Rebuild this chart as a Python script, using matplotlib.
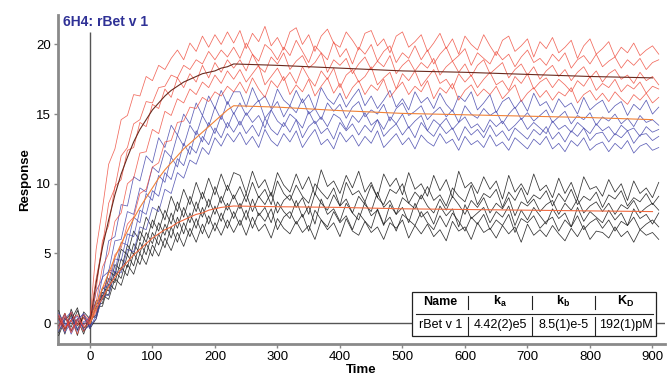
"""Sensorgramm 6H4: rBet v 1 - drei Konzentrationen mit Fit-Kurven"""

import numpy as np
import matplotlib
matplotlib.use("Agg")
import matplotlib.pyplot as plt
from matplotlib.patches import Rectangle

plt.rcParams['font.family'] = ['Liberation Sans', 'DejaVu Sans']
plt.rcParams['mathtext.fontset'] = 'custom'
plt.rcParams['mathtext.rm'] = 'Liberation Sans:bold'
plt.rcParams['mathtext.bf'] = 'Liberation Sans:bold'

# Messkurven, Abtastung alle 10 s ab t = -50 s
t_start = -50
t_step = 10

red_1 = [0.3, -0.6, 0.8, -0.2, 0.6, 0.2,
         5.3, 8.2, 11.4, 12.5, 14.6, 14.9, 16.4, 16.3, 17.7, 17.4, 18.5, 18.2, 19.0, 19.6, 18.9, 20.1, 19.5, 20.6, 19.8, 20.7, 20.0, 20.9, 20.1,
         21.0, 19.7, 20.8, 20.2, 21.3, 19.9, 20.5, 19.6, 20.9, 21.2, 20.0, 20.7, 19.5, 20.6, 21.1, 20.1, 19.8, 20.9, 20.3, 19.6,
         20.8, 21.0, 19.9, 20.4, 19.4, 20.6, 20.9, 19.8, 20.2, 20.7, 19.5, 20.1, 20.8, 19.7, 20.4, 19.3, 20.6, 20.0, 19.6, 20.7,
         19.9, 19.2, 20.3, 20.6, 19.5, 19.9, 20.4, 19.1, 20.2, 19.7, 20.5, 19.4, 19.8, 20.3, 19.0, 19.9, 20.4, 19.3, 19.7, 20.2,
         19.1, 19.8, 19.4, 20.1, 19.2, 19.6, 19.9, 19.3]
red_2 = [-0.4, 0.5, -0.7, 0.3, -0.2, 0.4,
         3.2, 5.5, 8.6, 9.7, 12.0, 12.6, 14.3, 14.6, 15.9, 15.8, 16.9, 17.0, 17.8, 17.6, 18.5, 18.2, 18.9, 18.6, 19.5, 18.9, 19.6, 19.1, 19.8,
         19.0, 20.1, 19.3, 18.8, 20.0, 19.6, 18.9, 19.8, 19.2, 20.3, 19.5, 18.7, 19.9, 19.4, 18.9, 20.2, 19.1, 19.7, 18.6, 19.8,
         19.3, 20.0, 18.8, 19.5, 19.9, 18.7, 19.4, 19.0, 19.9, 18.9, 19.6, 18.6, 19.3, 19.8, 18.8, 19.2, 19.7, 18.5, 19.4, 19.0,
         18.6, 19.5, 18.9, 19.3, 18.4, 19.1, 19.6, 18.7, 19.0, 18.5, 19.3, 18.8, 19.4, 18.3, 18.9, 19.2, 18.6, 19.3, 18.4, 18.8,
         19.1, 18.3, 18.9, 18.5, 19.0, 18.2, 18.7, 18.9]
red_3 = [0.6, -0.3, 0.2, -0.8, 0.4, -0.1,
         2.4, 5.9, 7.0, 9.8, 10.3, 12.4, 12.6, 14.4, 14.1, 15.7, 15.4, 16.8, 16.2, 17.6, 16.9, 17.9, 17.3, 18.5, 17.6, 18.7, 18.0, 18.9, 18.3,
         18.9, 18.1, 19.3, 18.4, 18.0, 19.1, 18.6, 19.4, 18.2, 18.8, 19.2, 18.3, 18.7, 19.4, 18.0, 18.9, 18.5, 19.0, 17.9, 18.6,
         19.1, 18.2, 18.8, 18.4, 19.2, 17.9, 18.5, 18.9, 18.1, 18.7, 18.3, 19.0, 17.8, 18.4, 18.8, 18.0, 18.6, 17.7, 18.5, 18.9,
         17.9, 18.3, 18.7, 17.6, 18.2, 18.6, 17.8, 18.4, 17.5, 18.1, 18.5, 17.7, 18.2, 17.4, 18.0, 18.4, 17.6, 18.1, 17.3, 17.9,
         18.2, 17.5, 17.8, 17.2, 18.0, 17.4, 17.7, 17.1]
red_4 = [-0.2, 0.7, -0.5, 0.1, -0.6, 0.3,
         1.5, 4.0, 5.0, 7.3, 7.9, 10.0, 10.4, 12.2, 12.3, 13.9, 13.6, 15.2, 14.9, 16.1, 15.8, 16.8, 16.4, 17.3, 16.9, 17.8, 17.2, 18.1, 17.5,
         18.2, 17.3, 17.9, 18.5, 17.1, 17.7, 18.3, 17.4, 18.0, 17.2, 18.4, 17.6, 17.0, 18.1, 17.5, 18.3, 16.9, 17.8, 18.2, 17.3,
         17.7, 18.4, 17.1, 17.6, 18.0, 16.8, 17.9, 17.4, 18.1, 17.0, 17.6, 18.2, 17.2, 17.5, 16.8, 17.9, 17.3, 17.8, 16.9, 17.5,
         18.0, 17.1, 17.4, 16.7, 17.7, 17.2, 17.9, 16.8, 17.3, 17.6, 16.9, 17.5, 17.1, 16.6, 17.4, 17.0, 17.7, 16.7, 17.2, 16.9,
         17.5, 16.6, 17.1, 16.8, 17.3, 16.5, 17.0, 16.8]
red_5 = [0.5, -0.4, 0.2, 0.6, -0.3, 0.0,
         0.8, 2.5, 3.0, 4.9, 5.4, 7.1, 7.6, 9.3, 9.6, 11.2, 11.5, 13.0, 13.1, 14.4, 14.5, 15.5, 15.4, 16.2, 15.9, 16.6, 16.3, 17.0, 16.6,
         17.3, 16.5, 17.6, 16.8, 16.2, 17.4, 16.9, 17.7, 16.4, 17.1, 16.6, 17.5, 16.3, 17.0, 17.6, 16.5, 17.2, 16.1, 16.9, 17.4,
         16.4, 17.1, 16.7, 17.5, 16.2, 16.8, 17.3, 16.4, 17.0, 16.6, 17.4, 16.1, 16.9, 16.5, 17.2, 16.0, 16.7, 17.1, 16.3, 16.8,
         16.4, 17.0, 16.1, 16.6, 17.1, 15.9, 16.5, 16.9, 16.2, 16.7, 16.0, 16.6, 16.3, 16.9, 15.8, 16.4, 16.7, 16.0, 16.5, 15.9,
         16.6, 16.1, 15.7, 16.4, 16.0, 16.5, 15.8, 16.2]

blue_1 = [-0.3, 0.6, -0.8, 0.2, 0.7, -0.2,
          2.3, 3.2, 5.9, 6.2, 8.5, 8.4, 10.5, 10.2, 12.0, 11.5, 13.3, 12.6, 14.2, 13.5, 15.0, 14.3, 15.8, 14.9, 16.3, 15.4, 16.7, 15.7, 16.6,
          16.6, 15.5, 16.9, 15.9, 16.3, 15.4, 16.8, 16.0, 15.6, 16.7, 15.8, 16.4, 15.3, 16.9, 16.1, 15.7, 16.5, 15.5, 16.2, 16.8,
          15.6, 16.3, 15.4, 16.0, 16.7, 15.5, 16.1, 15.3, 16.6, 15.8, 16.2, 15.4, 16.5, 15.7, 15.2, 16.3, 15.9, 16.6, 15.3, 15.8,
          16.4, 15.1, 15.9, 16.2, 15.4, 16.0, 15.2, 16.5, 15.6, 15.9, 15.1, 16.1, 15.5, 15.8, 15.0, 16.2, 15.3, 15.7, 16.0, 15.1,
          15.6, 15.9, 14.9, 15.7, 15.3, 16.0, 15.0, 15.5]
blue_2 = [0.5, -0.2, 0.4, -0.6, 0.1, 0.3,
          1.0, 3.3, 3.7, 5.9, 6.0, 8.0, 7.8, 9.7, 9.4, 11.2, 10.8, 12.4, 11.9, 13.5, 12.7, 14.2, 13.5, 14.9, 14.1, 15.5, 14.6, 15.9, 15.0,
          15.8, 14.9, 15.5, 16.0, 14.7, 15.3, 15.9, 14.8, 15.6, 15.1, 16.1, 15.0, 15.4, 14.6, 15.8, 15.2, 15.7, 14.7, 15.5, 15.9,
          14.8, 15.3, 15.0, 15.7, 14.5, 15.4, 15.8, 14.9, 15.2, 15.6, 14.6, 15.1, 15.5, 14.8, 15.3, 14.4, 15.6, 15.0, 14.7, 15.4,
          14.9, 15.2, 14.3, 15.0, 15.5, 14.6, 15.1, 14.5, 14.9, 15.3, 14.4, 14.8, 15.2, 14.3, 14.9, 14.6, 15.1, 14.2, 14.8, 14.5,
          15.0, 14.3, 14.7, 14.1, 14.9, 14.4, 14.6, 14.2]
blue_3 = [-0.6, 0.3, 0.8, -0.4, -0.1, 0.5,
          1.4, 1.7, 3.8, 3.7, 5.8, 5.6, 7.6, 7.2, 9.3, 8.8, 10.6, 10.1, 11.9, 11.2, 12.9, 12.1, 13.8, 13.0, 14.4, 13.6, 14.9, 14.0, 15.1,
          14.2, 15.1, 14.4, 14.9, 14.0, 15.3, 14.5, 14.1, 15.0, 14.6, 14.0, 15.2, 14.3, 14.8, 14.1, 15.0, 14.7, 13.9, 14.9, 14.4,
          15.1, 14.2, 14.6, 13.9, 14.8, 14.3, 15.0, 14.0, 14.5, 14.9, 13.8, 14.6, 14.2, 14.7, 13.9, 14.4, 14.8, 14.0, 14.3, 13.7,
          14.6, 14.1, 14.5, 13.8, 14.2, 14.7, 13.9, 14.4, 14.0, 13.6, 14.5, 13.9, 14.2, 13.7, 14.4, 14.0, 13.6, 14.3, 13.8, 14.1,
          13.5, 14.2, 13.8, 14.0, 13.4, 14.1, 13.7, 13.9]
blue_4 = [0.2, -0.7, 0.1, 0.5, -0.5, -0.2,
          0.3, 1.9, 2.0, 3.7, 3.6, 5.3, 5.1, 6.9, 6.7, 8.3, 8.0, 9.6, 9.3, 10.8, 10.4, 11.7, 11.4, 12.6, 12.1, 13.3, 12.7, 13.6, 13.0,
          13.7, 12.8, 13.4, 12.6, 13.9, 13.1, 12.7, 13.6, 13.0, 13.8, 12.6, 13.3, 13.9, 12.8, 13.2, 12.5, 13.7, 13.0, 13.5, 12.7,
          13.4, 12.9, 13.8, 12.6, 13.1, 13.6, 12.8, 13.3, 12.5, 13.5, 13.0, 12.7, 13.6, 12.9, 13.2, 12.4, 13.4, 12.8, 13.1, 12.6,
          13.5, 12.7, 13.0, 12.4, 13.3, 12.9, 12.5, 13.2, 12.8, 13.4, 12.5, 12.9, 12.3, 13.1, 12.7, 13.3, 12.4, 12.8, 13.0, 12.3,
          12.9, 12.5, 13.1, 12.2, 12.7, 12.9, 12.4, 12.6]
blue_5 = [0.7, 0.0, -0.5, 0.3, 0.6, -0.4,
          0.6, 2.5, 2.7, 4.6, 4.5, 6.4, 6.2, 8.1, 7.8, 9.5, 9.1, 10.8, 10.3, 11.8, 11.3, 12.7, 12.2, 13.4, 12.8, 14.0, 13.3, 14.4, 13.7,
          14.5, 13.6, 14.2, 13.4, 14.7, 13.9, 13.5, 14.4, 13.7, 14.6, 13.3, 14.1, 14.5, 13.6, 14.0, 13.2, 14.4, 13.8, 14.3, 13.5,
          14.2, 13.7, 14.6, 13.4, 13.9, 14.3, 13.5, 14.1, 13.3, 14.4, 13.8, 13.4, 14.2, 13.6, 14.0, 13.1, 14.1, 13.5, 13.9, 13.3,
          14.2, 13.4, 13.8, 13.1, 14.0, 13.6, 13.2, 13.9, 13.5, 14.1, 13.2, 13.7, 13.0, 13.8, 13.4, 14.0, 13.1, 13.6, 13.7, 13.0,
          13.6, 13.3, 13.8, 12.9, 13.5, 13.6, 13.1, 13.4]

black_1 = [0.9, -0.5, 0.6, -0.9, 0.8, 0.3,
           1.6, 1.7, 3.7, 3.4, 5.3, 4.9, 6.6, 5.9, 7.6, 6.8, 8.4, 7.4, 9.1, 8.0, 9.6, 8.5, 10.1, 8.9, 10.4, 9.2, 10.7, 9.5, 10.8,
           10.6, 9.3, 10.9, 9.7, 10.3, 9.1, 10.8, 9.9, 9.4, 10.7, 9.6, 10.5, 9.2, 11.0, 9.8, 10.2, 9.3, 10.6, 9.7, 10.9,
           9.4, 10.1, 9.0, 10.7, 9.8, 10.4, 9.2, 10.8, 9.6, 10.0, 9.1, 10.6, 9.5, 10.3, 9.0, 10.9, 9.7, 10.1, 9.3, 10.5,
           9.6, 10.2, 8.9, 10.6, 9.4, 10.0, 9.2, 10.7, 9.5, 9.9, 9.0, 10.4, 9.3, 10.1, 8.9, 10.5, 9.6, 9.8, 9.1, 10.3,
           9.4, 10.0, 8.8, 10.2, 9.3, 9.7, 9.0, 10.1]
black_2 = [-0.7, 0.4, -0.3, 0.9, -0.4, 0.2,
           0.6, 2.5, 2.3, 4.2, 3.8, 5.6, 4.9, 6.6, 5.8, 7.4, 6.6, 8.1, 7.1, 8.7, 7.6, 9.1, 8.0, 9.4, 8.3, 9.8, 8.6, 9.9, 8.9,
           9.8, 8.7, 10.1, 9.0, 9.6, 8.5, 10.2, 9.3, 8.8, 9.9, 9.1, 8.6, 10.0, 9.4, 8.9, 9.7, 8.4, 10.1, 9.2, 9.5,
           8.7, 9.9, 9.0, 8.5, 9.6, 9.3, 10.0, 8.6, 9.4, 8.9, 9.8, 8.8, 9.2, 8.4, 9.7, 9.1, 8.7, 9.9, 8.5, 9.3,
           9.0, 9.6, 8.3, 9.4, 8.8, 9.7, 8.6, 9.2, 8.9, 9.5, 8.4, 9.3, 8.7, 9.6, 8.5, 9.1, 8.8, 9.4, 8.3, 9.2,
           8.9, 9.5, 8.4, 9.0, 8.7, 9.3, 8.5, 9.1]
black_3 = [0.5, -0.8, 1.0, -0.2, 0.4, -0.3,
           1.4, 1.4, 3.2, 2.9, 4.6, 4.0, 5.7, 5.0, 6.5, 5.7, 7.2, 6.3, 7.9, 6.8, 8.3, 7.2, 8.7, 7.6, 8.9, 7.8, 9.1, 8.1, 9.2,
           8.2, 9.3, 8.0, 9.1, 8.5, 9.4, 7.9, 8.8, 9.2, 8.3, 9.0, 7.8, 9.3, 8.6, 8.1, 9.2, 8.4, 8.9, 7.9, 9.1,
           8.5, 8.0, 9.4, 8.3, 8.8, 7.8, 9.0, 8.6, 8.2, 9.2, 8.4, 7.9, 8.9, 8.1, 9.1, 8.5, 7.8, 8.8, 8.3, 9.0,
           7.9, 8.6, 8.2, 9.0, 7.7, 8.7, 8.4, 8.9, 8.0, 8.5, 8.8, 7.8, 8.6, 8.1, 8.9, 7.9, 8.4, 8.7, 8.0, 8.6,
           7.8, 8.5, 8.2, 8.8, 7.9, 8.3, 8.6, 8.1]
black_4 = [-0.2, 0.7, -0.6, 0.3, -0.8, 0.5,
           0.4, 2.2, 2.0, 3.7, 3.2, 4.9, 4.1, 5.8, 4.9, 6.5, 5.6, 7.1, 6.1, 7.6, 6.4, 7.9, 6.8, 8.3, 7.1, 8.4, 7.3, 8.6, 7.5,
           8.6, 7.4, 8.9, 7.7, 8.3, 7.2, 8.7, 8.0, 7.5, 8.8, 7.6, 8.4, 7.1, 8.9, 7.8, 8.2, 7.3, 8.6, 7.9, 7.4,
           8.7, 7.7, 8.1, 7.0, 8.5, 7.8, 8.3, 7.2, 8.6, 7.6, 8.0, 7.1, 8.4, 7.7, 8.2, 6.9, 8.5, 7.5, 7.9, 8.3,
           7.2, 8.0, 7.6, 8.4, 7.0, 8.1, 7.4, 8.3, 7.7, 7.1, 8.2, 7.5, 7.9, 6.9, 8.3, 7.3, 8.0, 7.6, 7.2, 8.1,
           7.4, 7.9, 7.0, 8.2, 7.5, 7.8, 7.1, 7.9]
black_5 = [0.3, -0.4, 0.2, 1.1, -0.6, 0.0,
           1.2, 1.2, 2.8, 2.4, 4.0, 3.4, 5.0, 4.2, 5.7, 4.8, 6.4, 5.4, 6.9, 5.8, 7.2, 6.2, 7.5, 6.4, 7.7, 6.6, 7.9, 6.8, 8.0,
           7.0, 8.1, 6.8, 7.9, 7.3, 8.2, 6.7, 7.6, 8.0, 7.1, 7.8, 6.6, 8.1, 7.4, 6.9, 8.0, 7.2, 7.7, 6.7, 7.9,
           7.3, 6.8, 8.2, 7.1, 7.6, 6.6, 7.8, 7.4, 7.0, 8.0, 7.2, 6.7, 7.7, 6.9, 7.9, 7.3, 6.6, 7.6, 7.1, 7.8,
           6.7, 7.4, 7.0, 7.8, 6.5, 7.5, 7.2, 7.7, 6.8, 7.3, 7.6, 6.6, 7.4, 6.9, 7.7, 6.7, 7.2, 7.5, 6.8, 7.4,
           6.6, 7.3, 7.0, 7.6, 6.7, 7.1, 7.4, 6.9]
black_6 = [-0.9, 0.2, 0.7, -0.5, 0.6, -0.4,
           0.3, 2.0, 1.7, 3.2, 2.7, 4.2, 3.5, 5.0, 4.2, 5.6, 4.8, 6.1, 5.2, 6.5, 5.5, 6.8, 5.8, 7.1, 6.1, 7.2, 6.3, 7.4, 6.5,
           7.4, 6.3, 7.6, 6.6, 7.1, 6.1, 7.5, 6.8, 6.4, 7.3, 6.5, 7.0, 6.0, 7.4, 6.7, 7.2, 6.2, 7.5, 6.6, 6.3,
           7.3, 6.5, 6.9, 6.0, 7.2, 6.8, 7.4, 6.1, 7.0, 6.4, 7.1, 6.2, 6.7, 5.9, 7.3, 6.6, 6.9, 6.0, 7.2, 6.5,
           6.8, 6.1, 7.0, 6.4, 6.9, 5.8, 7.1, 6.3, 6.7, 6.2, 7.0, 6.4, 5.9, 6.8, 6.2, 7.0, 6.0, 6.6, 6.5, 6.1,
           6.9, 6.2, 6.6, 5.8, 6.7, 6.3, 6.5, 6.0]

# Fit-Kurven (1:1 Langmuir), Injektionsende bei ~230 s
fit_time = [0, 10, 20, 30, 40, 50, 60, 70, 80, 90, 100, 110, 120, 130, 140, 150, 160, 170, 180, 190, 200,
            210, 220, 230, 300, 400, 500, 600, 700, 800, 900]
red_fit = [0, 2.9, 5.4, 7.4, 9.2, 10.7, 11.9, 13.0, 13.9, 14.6, 15.3, 15.8, 16.3, 16.7, 17.0, 17.3, 17.5, 17.7, 17.9,
           18.0, 18.1, 18.3, 18.4, 18.6, 18.5, 18.3, 18.1, 18.0, 17.85, 17.7, 17.6]
blue_fit = [0, 1.3, 2.5, 3.6, 4.7, 5.7, 6.6, 7.5, 8.3, 9.0, 9.7, 10.4, 11.0, 11.5, 12.0, 12.5, 12.9, 13.3, 13.7,
            14.1, 14.5, 14.9, 15.3, 15.6, 15.5, 15.25, 15.05, 14.95, 14.85, 14.75, 14.6]
black_fit = [0, 1.0, 1.8, 2.6, 3.3, 3.9, 4.4, 4.9, 5.3, 5.7, 6.1, 6.4, 6.7, 6.9, 7.2, 7.4, 7.6, 7.8, 7.9,
             8.1, 8.2, 8.3, 8.35, 8.4, 8.35, 8.3, 8.2, 8.15, 8.1, 8.05, 8.0]

# Tabelle mit den kinetischen Konstanten
table_header = ['Name', r'k$_\mathregular{a}$', r'k$_\mathregular{b}$', r'K$_\mathregular{D}$']
table_row = ['rBet v 1', '4.42(2)e5', '8.5(1)e-5', '192(1)pM']

x_ticks = [0, 100, 200, 300, 400, 500, 600, 700, 800, 900]
y_ticks = [0, 5, 10, 15, 20]


def plot_group(ax, traces, color, lw=0.55, alpha=0.9):
    for y in traces:
        t = t_start + t_step * np.arange(len(y))
        ax.plot(t, y, color=color, lw=lw, alpha=alpha, zorder=3)


fig = plt.figure(figsize=(6.67, 3.8), dpi=100)
ax = fig.add_axes([0.087, 0.095, 0.91, 0.865])

ax.axhline(0, color='#555555', lw=1.0, zorder=2)
ax.vlines(0, -1.5, 20.9, color='#555555', lw=1.0, zorder=2)

plot_group(ax, [black_1, black_2, black_3, black_4, black_5, black_6], '#1c1c1c')
plot_group(ax, [blue_1, blue_2, blue_3, blue_4, blue_5], '#4d4fb0')
plot_group(ax, [red_1, red_2, red_3, red_4, red_5], '#ee4434', alpha=0.8)

ax.plot(fit_time, red_fit, color='#6a2a1e', lw=0.8, zorder=4)
ax.plot(fit_time, blue_fit, color='#f08238', lw=0.8, zorder=4)
ax.plot(fit_time, black_fit, color='#f06a40', lw=0.8, zorder=4)

ax.set_xlim(-51, 920)
ax.set_ylim(-1.5, 22.1)
ax.set_xticks(x_ticks)
ax.set_yticks(y_ticks)
ax.tick_params(labelsize=9.5, length=3, width=1, color='#888888', pad=2)
for s in ['top', 'right']:
    ax.spines[s].set_visible(False)
for s in ['left', 'bottom']:
    ax.spines[s].set_color('#8a8a8a')
    ax.spines[s].set_linewidth(2)

ax.set_xlabel('Time', fontsize=9.5, fontweight='bold', labelpad=1)
ax.set_ylabel('Response', fontsize=9.5, fontweight='bold', labelpad=4)
ax.text(-43, 21.6, '6H4: rBet v 1', color='#2f3196', fontsize=10, fontweight='bold',
        va='center', ha='left')

# Tabelle zeichnen (Datenkoordinaten)
x0, x1 = 516, 906
y0, y1 = -0.95, 2.2
ax.add_patch(Rectangle((x0, y0), x1 - x0, y1 - y0, facecolor='white', edgecolor='#222222',
                       lw=0.9, zorder=6))
col_edges = [x0, 605, 707, 808, x1]
y_head = 1.52
y_line = 0.65
y_row = -0.15
ax.plot([x0 + 5, x1 - 5], [y_line, y_line], color='#222222', lw=0.8, zorder=7)
for i in range(4):
    xc = (col_edges[i] + col_edges[i + 1]) / 2
    ax.text(xc, y_head, table_header[i], ha='center', va='center', fontsize=9,
            fontweight='bold', zorder=8)
    ax.text(xc, y_row, table_row[i], ha='center', va='center', fontsize=9, zorder=8)
for xe in col_edges[1:-1]:
    ax.plot([xe, xe], [1.0, 1.95], color='#222222', lw=0.8, zorder=7)
    ax.plot([xe, xe], [-0.85, 0.4], color='#222222', lw=0.8, zorder=7)

fig.savefig('out.png', dpi=100)
